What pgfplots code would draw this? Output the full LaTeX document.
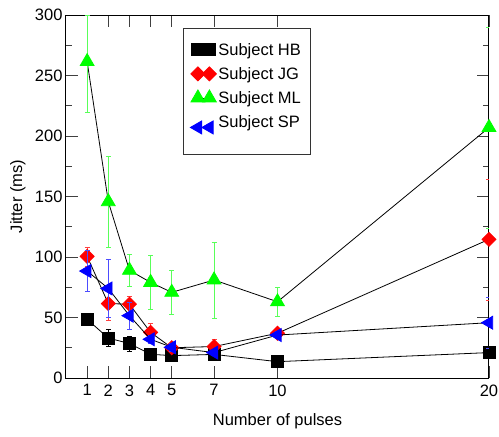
\documentclass[border=0pt]{standalone}
\usepackage{fontspec}
\setmainfont{Liberation Sans}
\usepackage{pgfplots}
\usepackage{pgfplotstable}
\pgfplotsset{compat=1.18}
\definecolor{barred}{rgb}{1,0.25,0.25}
\definecolor{bargreen}{rgb}{0.35,1,0.35}
\definecolor{barblue}{rgb}{0.3,0.3,1}

% x = number of pulses, y = jitter (ms), e = error
\pgfplotstableread{
x  y     e
1  48.5  2
2  33    7
3  28.5  6
4  19.6  2
5  18.5  2
7  19.5  2
10 13.5  1.5
20 21    3
}\subjHB
\pgfplotstableread{
x  y     e
1  100.5 8
2  61.5  14
3  61    7
4  37.7  8
5  25    3
7  26    6
10 37    4
20 114.6 50
}\subjJG
\pgfplotstableread{
x  y     ep    em
1  261.5 38.5  42
2  145.7 38    38
3  89    13.5  13.5
4  79    22.5  22.5
5  70.8  18    18
7  81    31.5  31.5
10 63    12    12
20 207   83    83
}\subjML
\pgfplotstableread{
x  y     e
1  88.4  17
2  74    24
3  51.5  11
4  32    3
5  25.4  3
7  21    2
10 35.5  3
20 45.7  21
}\subjSP

\newcommand{\fs}{\fontsize{16.5}{19}\selectfont}

\begin{document}
\begin{tikzpicture}
\begin{axis}[
    scale only axis,
    width=423pt, height=363pt,
    xmin=0, xmax=20,
    ymin=0, ymax=300,
    xtick={1,2,3,4,5,7,10,20},
    ytick={0,50,...,300},
    minor y tick num=1,
    major tick length=12pt,
    minor tick length=6pt,
    tick style={black!75, line width=0.8pt},
    axis line style={line width=1pt},
    tick label style={font=\fs},
    /pgf/number format/assume math mode=true,
    xticklabel style={yshift=-3pt},
    xlabel={Number of pulses},
    ylabel={Jitter (ms)},
    label style={font=\fs},
    xlabel style={at={(axis description cs:0.5,0)}, anchor=base, yshift=-47pt},
    ylabel style={at={(axis description cs:-0.104,0.5)}, anchor=base},
    clip mode=individual,
    legend style={
        at={(axis description cs:0.2766,0.9642)}, anchor=north west,
        font=\fs, draw=black!80, line width=0.8pt,
        inner xsep=7pt, inner ysep=12.7pt, row sep=6.6pt,
        legend cell align=left,
    },
    legend image code/.code={\draw[#1] plot coordinates {(0pt,0pt) (11.5pt,0pt)};},
    every axis plot/.append style={line width=0.8pt},
    error bars/error bar style={line width=0.8pt},
    error bars/error mark options={rotate=90, mark size=2.5pt, line width=0.8pt},
]
\addplot[black, mark=square*, mark size=6pt, mark options={black, solid},
    error bars/.cd, y dir=both, y explicit,
    error bar style={black}, error mark options={black, rotate=90, mark size=2.5pt}]
    table[x=x, y=y, y error=e] {\subjHB};
\addlegendentry{Subject HB}
\addplot[black, mark=diamond*, mark size=7pt, mark options={draw=red, fill=red, xscale=1.33, solid},
    error bars/.cd, y dir=both, y explicit,
    error bar style={barred}, error mark options={barred, rotate=90, mark size=2.5pt}]
    table[x=x, y=y, y error=e] {\subjJG};
\addlegendentry{Subject JG}
\addplot[black, mark=triangle*, mark size=8pt, mark options={draw=green, fill=green, solid},
    error bars/.cd, y dir=both, y explicit,
    error bar style={bargreen}, error mark options={bargreen, rotate=90, mark size=2.5pt}]
    table[x=x, y=y, y error plus=ep, y error minus=em] {\subjML};
\addlegendentry{Subject ML}
\addplot[black, mark=triangle*, mark size=7.5pt, mark options={draw=blue, fill=blue, rotate=90, solid},
    error bars/.cd, y dir=both, y explicit,
    error bar style={barblue}, error mark options={barblue, rotate=90, mark size=2.5pt}]
    table[x=x, y=y, y error=e] {\subjSP};
\addlegendentry[text depth=12.4pt]{Subject SP}
\end{axis}
\pgfresetboundingbox
\path[use as bounding box] (-66pt,-59pt) rectangle (433pt,378pt);
\end{tikzpicture}
\end{document}
